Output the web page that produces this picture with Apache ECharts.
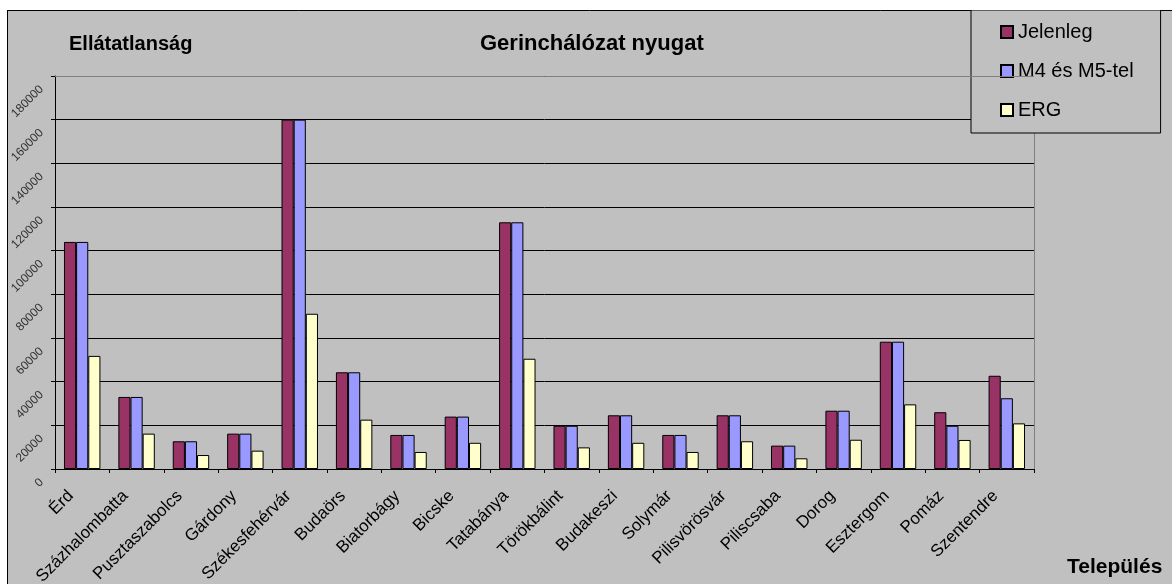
<!DOCTYPE html>
<html>
<head>
<meta charset="utf-8">
<script src="https://cdn.jsdelivr.net/npm/echarts@6/dist/echarts.min.js"></script>
<style>
  html, body { margin: 0; padding: 0; background: #ffffff; }
  #chart { position: absolute; left: 7px; top: 10px; width: 1165px; height: 574px; }
</style>
</head>
<body>
<div id="chart"></div>
<script>
const categories = ["Érd", "Százhalombatta", "Pusztaszabolcs", "Gárdony", "Székesfehérvár",
  "Budaörs", "Biatorbágy", "Bicske", "Tatabánya", "Törökbálint", "Budakeszi", "Solymár",
  "Pilisvörösvár", "Piliscsaba", "Dorog", "Esztergom", "Pomáz", "Szentendre"];
const jelenleg = [104000, 33000, 12700, 16200, 160000, 44300, 15600, 24000, 113000,
  19800, 24600, 15600, 24600, 10700, 26700, 58300, 26000, 42700];
const m4m5 = [104000, 33000, 12700, 16200, 160000, 44300, 15600, 24000, 113000,
  19800, 24600, 15600, 24600, 10700, 26700, 58300, 19800, 32400];
const erg = [51800, 16200, 6400, 8400, 71100, 22600, 7800, 12000, 50500,
  9900, 12000, 7800, 12700, 4900, 13400, 29600, 13300, 20900];
const yTicks = [0, 180000, 20000]; // min, max, interval

const chart = echarts.init(document.getElementById("chart"));
const font = "Liberation Sans, Arial, sans-serif";

const bar = (name, data, color) => ({
  name: name,
  type: "bar",
  data: data,
  barGap: "0%",
  barCategoryGap: "33%",
  itemStyle: { color: color, borderColor: "#000", borderWidth: 1 },
});

chart.setOption({
  backgroundColor: "#c0c0c0",
  animation: false,
  textStyle: { fontFamily: font },
  title: [
    {
      text: "Gerinchálózat nyugat",
      left: 468, top: 18,
      textStyle: { fontSize: 22, fontWeight: "bold", color: "#000", fontFamily: font },
    },
    {
      text: "Ellátatlanság",
      left: 57, top: 19,
      textStyle: { fontSize: 20, fontWeight: "bold", color: "#000", fontFamily: font },
    },
    {
      text: "Település",
      left: 1055, top: 542,
      textStyle: { fontSize: 21, fontWeight: "bold", color: "#000", fontFamily: font },
    },
  ],
  legend: {
    orient: "vertical",
    left: 964, top: 0,
    padding: [12, 27, 13, 29],
    itemGap: 19,
    itemWidth: 12, itemHeight: 12,
    backgroundColor: "#c0c0c0",
    borderColor: "#000",
    borderWidth: 1,
    icon: "rect",
    textStyle: { fontSize: 20, color: "#000", fontFamily: font },
    data: ["Jelenleg", "M4 és M5-tel", "ERG"],
  },
  grid: { left: 48, right: 138, top: 66, bottom: 115, outerBoundsMode: "none", containLabel: false },
  xAxis: {
    type: "category",
    data: categories,
    axisLine: { lineStyle: { color: "#000" } },
    axisTick: { show: true, lineStyle: { color: "#000" }, length: 4 },
    axisLabel: { rotate: 45, fontSize: 17, color: "#000", margin: 13, padding: [0, 16, 0, 0],
                 interval: 0, fontFamily: font },
    splitLine: { show: false },
  },
  yAxis: {
    type: "value",
    min: yTicks[0], max: yTicks[1], interval: yTicks[2],
    axisLine: { show: true, lineStyle: { color: "#000" } },
    axisTick: { show: true, lineStyle: { color: "#000" }, length: 4 },
    axisLabel: { rotate: 45, fontSize: 12, color: "#333", margin: 2, padding: [0, 16, 0, 0],
                 fontFamily: font, formatter: (v) => String(v) },
    splitLine: { lineStyle: { color: "#000", width: 1 } },
  },
  series: [
    bar("Jelenleg", jelenleg, "#993366"),
    bar("M4 és M5-tel", m4m5, "#9999ff"),
    bar("ERG", erg, "#ffffcc"),
  ],
  graphic: [
    // chart frame (left and top edges) and plot area borders
    { type: "line", shape: { x1: 0.5, y1: 0, x2: 0.5, y2: 574 }, style: { stroke: "#000", lineWidth: 1 } },
    { type: "line", shape: { x1: 0, y1: 0.5, x2: 1165, y2: 0.5 }, style: { stroke: "#000", lineWidth: 1 } },
    { type: "line", shape: { x1: 1027.5, y1: 66, x2: 1027.5, y2: 459 }, style: { stroke: "#808080", lineWidth: 1 } },
    { type: "line", shape: { x1: 48, y1: 66.5, x2: 1027, y2: 66.5 }, style: { stroke: "#808080", lineWidth: 1 }, z: 10 },
  ],
});
</script>
</body>
</html>
